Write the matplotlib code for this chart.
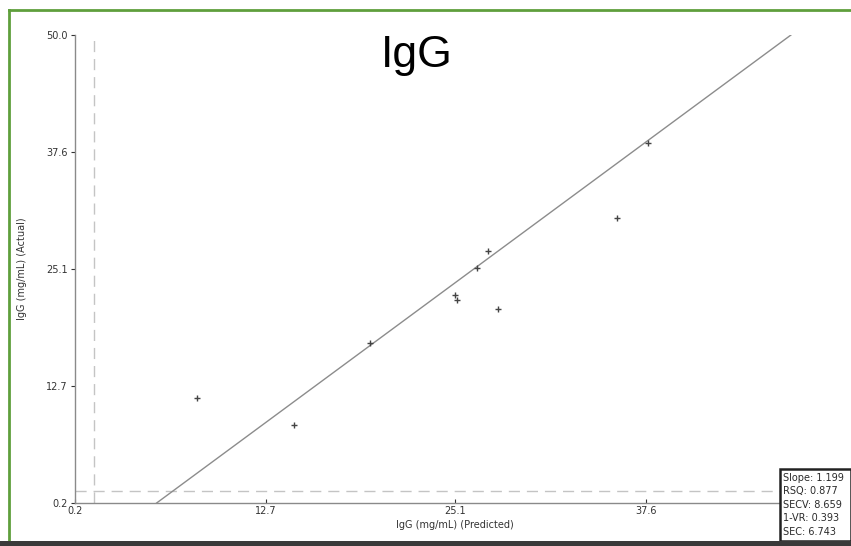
import matplotlib
matplotlib.use("Agg")
import matplotlib.pyplot as plt
from matplotlib.patches import Rectangle
from matplotlib.lines import Line2D
import numpy as np

# Calibration samples: predicted vs. actual IgG (mg/mL)
predicted = [8.19, 14.54, 19.54, 25.09, 25.24, 26.51, 27.27, 27.88, 35.69, 37.70]
actual = [11.40, 8.53, 17.26, 22.33, 21.77, 25.24, 27.01, 20.81, 30.53, 38.47]

# Regression line (slope / intercept) and reference cut-offs
slope = 1.199
intercept = -6.45
x_cut = 1.44
y_cut = 1.48

tick_values = [0.2, 12.7, 25.1, 37.6]
y_tick_values = [0.2, 12.7, 25.1, 37.6, 50.0]
axis_min, axis_max = 0.2, 50.0

stats_lines = ["Slope: 1.199", "RSQ: 0.877", "SECV: 8.659", "1-VR: 0.393", "SEC: 6.743"]

W, H = 851, 546
fig = plt.figure(figsize=(W / 100, H / 100), dpi=100)
fig.patch.set_facecolor("white")

ax = fig.add_axes([75 / W, 1 - 503 / H, (835.5 - 75) / W, (503 - 35) / H])
ax.set_xlim(axis_min, axis_max)
ax.set_ylim(axis_min, axis_max)
for side in ("top", "right"):
    ax.spines[side].set_visible(False)
for side in ("left", "bottom"):
    ax.spines[side].set_color("#8a8a8a")
    ax.spines[side].set_linewidth(1.0)

ax.set_xticks(tick_values)
ax.set_xticklabels([f"{v:.1f}" for v in tick_values])
ax.set_yticks(y_tick_values)
ax.set_yticklabels([f"{v:.1f}" for v in y_tick_values])
ax.tick_params(axis="both", labelsize=7, colors="#333333", length=3, width=0.8, pad=2)
ax.tick_params(axis="x", direction="in")

# Dashed cut-off guides
ax.axvline(x_cut, color="#c4c4c4", lw=1.0, dashes=(8, 5))
ax.axhline(y_cut, color="#c4c4c4", lw=1.0, dashes=(8, 5))

# Regression line clipped to the plotting range
x_start = (axis_min - intercept) / slope
x_end = (axis_max - intercept) / slope
xs = np.array([x_start, x_end])
ax.plot(xs, slope * xs + intercept, color="#8c8c8c", lw=1.0)

ax.plot(predicted, actual, linestyle="none", marker="+", markersize=5,
        markeredgewidth=1.0, color="#444444")

ax.set_xlabel("IgG (mg/mL) (Predicted)", fontsize=7, color="#333333", labelpad=3)
ax.set_ylabel("IgG (mg/mL) (Actual)", fontsize=7, color="#333333", labelpad=14)

fig.text(417 / W, 1 - 55 / H, "IgG", fontsize=32, family="Liberation Sans",
         ha="center", va="center", color="black")

# Statistics box in the lower right corner
bx0, by0 = 780, 469
box = Rectangle((bx0 / W, 1 - 541 / H), (W - bx0) / W, (541 - by0) / H,
                transform=fig.transFigure, facecolor="white",
                edgecolor="#222222", lw=1.8, zorder=5)
fig.add_artist(box)
for i, line in enumerate(stats_lines):
    fig.text(783 / W, 1 - (478 + i * 13.4) / H, line, fontsize=7,
             color="#2a2a2a", va="center", ha="left", zorder=6)

# Frame decorations
green = "#5f9f3c"
fig.add_artist(Line2D([9 / W, 9 / W], [1 - 10 / H, 1 - 541 / H],
                      transform=fig.transFigure, color=green, lw=2))
fig.add_artist(Line2D([9 / W, 1], [1 - 10 / H, 1 - 10 / H],
                      transform=fig.transFigure, color=green, lw=2))
fig.add_artist(Rectangle((0, 0), 1, 5 / H, transform=fig.transFigure,
                         facecolor="#3a3a3a", edgecolor="none", zorder=7))

fig.savefig("out.png", dpi=100)
